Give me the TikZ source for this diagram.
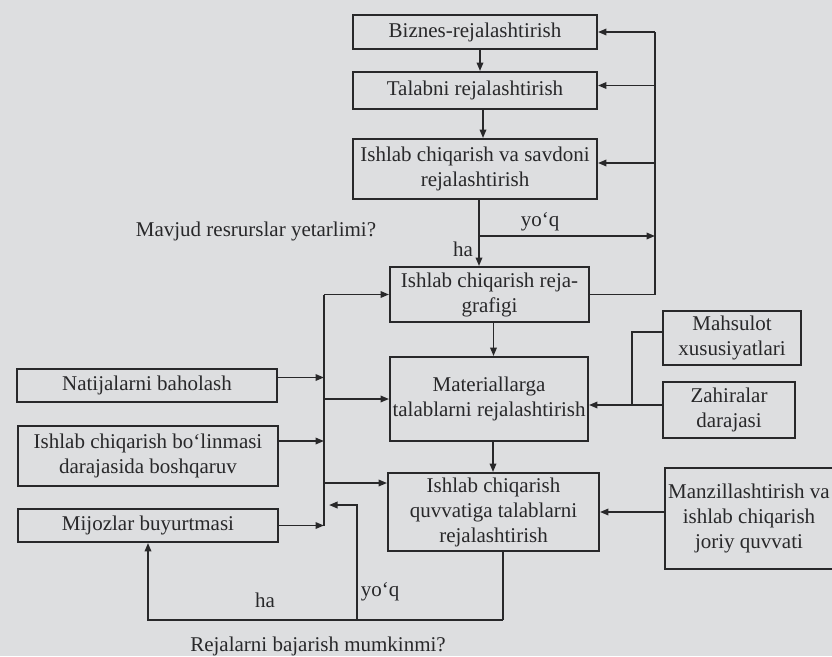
\documentclass[tikz,border=0pt]{standalone}
\usepackage{fontspec}
\setmainfont{Liberation Serif}
\usetikzlibrary{arrows.meta}
\definecolor{papel}{RGB}{221,222,224}
\definecolor{tinta}{RGB}{40,40,42}

\begin{document}
\begin{tikzpicture}[x=1pt,y=-1pt,line width=1.8pt,color=tinta,>={Triangle[length=8.5pt,width=6.5pt]},
  caja/.style={draw,line width=1.9pt,align=center,inner sep=0pt,font=\fontsize{21}{25}\selectfont},
  txt/.style={inner sep=0pt,font=\fontsize{21}{25}\selectfont}]
  % fondo
  \fill[papel] (0,0) rectangle (832,656);
  \useasboundingbox (0,0) rectangle (832,656);
  \clip (0,0) rectangle (832,656);
  % cajas centrales
  \node[caja,minimum width=244pt,minimum height=34pt] (biz) at (475,32) {Biznes-rejalashtirish};
  \node[caja,minimum width=244pt,minimum height=37pt] (tal) at (475,90.5) {Talabni rejalashtirish};
  \node[caja,minimum width=244pt,minimum height=60pt] (sav) at (475,169) {Ishlab chiqarish va savdoni\\rejalashtirish};
  \node[caja,minimum width=199pt,minimum height=55pt] (graf) at (489.5,294.5) {Ishlab chiqarish reja-\\grafigi};
  \node[caja,minimum width=198pt,minimum height=84pt] (mat) at (489,399) {Materiallarga\\talablarni rejalashtirish};
  \node[caja,minimum width=211pt,minimum height=78pt] (quv) at (493.5,512) {Ishlab chiqarish\\quvvatiga talablarni\\rejalashtirish};
  % cajas derecha
  \node[caja,minimum width=138pt,minimum height=54pt] (mah) at (732,338) {Mahsulot\\xususiyatlari};
  \node[caja,minimum width=132pt,minimum height=56pt] (zah) at (729,410) {Zahiralar\\darajasi};
  \node[caja,minimum width=168pt,minimum height=101pt] (man) at (749,518.5) {Manzillashtirish va\\ishlab chiqarish\\joriy quvvati};
  % cajas izquierda
  \node[caja,minimum width=260pt,minimum height=33pt] (nat) at (147,385.5) {Natijalarni baholash};
  \node[caja,minimum width=260pt,minimum height=60pt] (bol) at (148,456) {Ishlab chiqarish bo‘linmasi\\darajasida boshqaruv};
  \node[caja,minimum width=260pt,minimum height=33pt] (mij) at (148,525.5) {Mijozlar buyurtmasi};
  % preguntas y respuestas
  \node[txt] (preg1) at (256,231) {Mavjud resrurslar yetarlimi?};
  \node[txt] (no1) at (540,222) {yo‘q};
  \node[txt] (si1) at (463,249) {ha};
  \node[txt] (si2) at (265,600) {ha};
  \node[txt] (no2) at (380,592) {yo‘q};
  \node[txt] (preg2) at (318,646) {Rejalarni bajarish mumkinmi?};
  % puntos auxiliares
  \coordinate (R) at (655,0);
  \coordinate (B) at (324,0);
  \coordinate (ja) at (479,236);
  \coordinate (mz) at (632,405);
  \coordinate (lo) at (503,620);
  \coordinate (yq) at (357,620);
  \coordinate (yqt) at (329,505);
  % flechas verticales
  \draw[->] ([xshift=5pt]biz.south) -- ([xshift=5pt]tal.north);
  \draw[->] ([xshift=8pt]tal.south) -- ([xshift=8pt]sav.north);
  \draw (sav.south -| ja) -- (ja);
  \draw[->] (ja) -- (graf.north -| ja);
  \draw[->] (ja) -- (ja -| R);
  \draw[->] ([xshift=4pt]graf.south) -- ([xshift=4pt]graf.south |- mat.north);
  \draw[->] ([xshift=4pt]mat.south) -- ([xshift=4pt]mat.south |- quv.north);
  % retorno derecha
  \draw (graf.east) -| (R |- biz.east);
  \draw[->] (R |- biz.east) -- (biz.east);
  \draw[->] ([yshift=5pt]tal.east -| R) -- ([yshift=5pt]tal.east);
  \draw[->] ([yshift=6pt]sav.east -| R) -- ([yshift=6pt]sav.east);
  % barra izquierda
  \draw (B |- graf.west) -- (B |- mij.east);
  \draw[->] (B |- graf.west) -- (graf.west);
  \draw[->] (B |- mat.west) -- (mat.west);
  \draw[->] ([yshift=29pt]quv.west -| B) -- ([yshift=29pt]quv.west);
  \draw[->] ([yshift=8pt]nat.east) -- ([yshift=8pt]nat.east -| B);
  \draw[->] ([yshift=15pt]bol.east) -- ([yshift=15pt]bol.east -| B);
  \draw[->] (mij.east) -- (mij.east -| B);
  % entradas derecha
  \draw ([yshift=6pt]mah.west) -| (mz);
  \draw[->] (zah.west |- mz) -- (mat.east |- mz);
  \draw[->] (man.west |- quv.east) -- (quv.east);
  % lazo de abajo
  \draw (quv.south -| lo) -- (lo);
  \draw[->] (lo) -| (mij.south);
  \draw[->] (yq) |- (yqt);
\end{tikzpicture}
\end{document}
